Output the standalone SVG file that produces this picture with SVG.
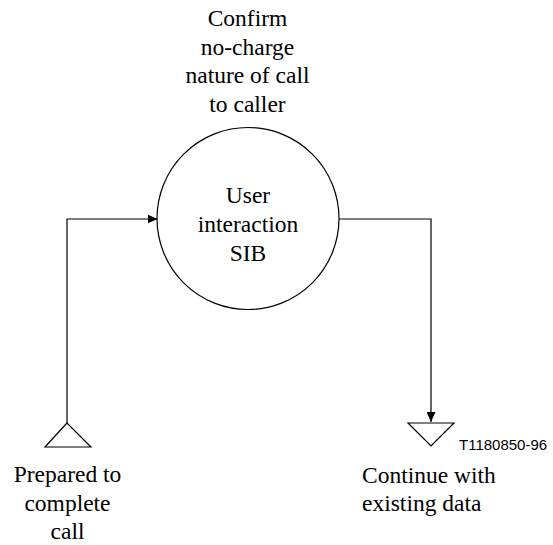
<svg xmlns="http://www.w3.org/2000/svg" width="553" height="545" viewBox="0 0 553 545">
<defs>
<marker id="ah" markerWidth="10" markerHeight="9" refX="10" refY="4.5" orient="auto" markerUnits="userSpaceOnUse">
<path d="M0,0 L10,4.5 L0,9 Z" fill="#000"/>
</marker>
</defs>
<rect width="553" height="545" fill="#fff"/>
<g id="connectors" fill="none" stroke="#000" stroke-width="1.2">
<path d="M67,423 V219 H157.5" marker-end="url(#ah)"/>
<path d="M339,219 H431 V422" marker-end="url(#ah)"/>
</g>
<g id="sib">
<circle cx="248" cy="218.5" r="91" fill="none" stroke="#000" stroke-width="1.2"/>
<text x="248" y="203" text-anchor="middle" font-family="Liberation Serif, serif" font-size="23.5">User</text>
<text x="248" y="232" text-anchor="middle" font-family="Liberation Serif, serif" font-size="23.5">interaction</text>
<text x="248" y="261" text-anchor="middle" font-family="Liberation Serif, serif" font-size="23.5">SIB</text>
</g>
<g id="sib-label">
<text x="247.5" y="26" text-anchor="middle" font-family="Liberation Serif, serif" font-size="23.5">Confirm</text>
<text x="247.5" y="55" text-anchor="middle" font-family="Liberation Serif, serif" font-size="23.5">no-charge</text>
<text x="247.5" y="83" text-anchor="middle" font-family="Liberation Serif, serif" font-size="23.5">nature of call</text>
<text x="247.5" y="112" text-anchor="middle" font-family="Liberation Serif, serif" font-size="23.5">to caller</text>
</g>
<g id="start">
<path d="M67,423 L45,447 H91 Z" fill="none" stroke="#000" stroke-width="1.2"/>
<text x="67.5" y="482" text-anchor="middle" font-family="Liberation Serif, serif" font-size="23.5">Prepared to</text>
<text x="67.5" y="511" text-anchor="middle" font-family="Liberation Serif, serif" font-size="23.5">complete</text>
<text x="67.5" y="539" text-anchor="middle" font-family="Liberation Serif, serif" font-size="23.5">call</text>
</g>
<g id="end">
<path d="M408,423 H454 L431,446 Z" fill="none" stroke="#000" stroke-width="1.2"/>
<text x="362" y="483" font-family="Liberation Serif, serif" font-size="23.5">Continue with</text>
<text x="362" y="511" font-family="Liberation Serif, serif" font-size="23.5">existing data</text>
</g>
<text x="459" y="450" font-family="Liberation Sans, sans-serif" font-size="15">T1180850-96</text>
</svg>
